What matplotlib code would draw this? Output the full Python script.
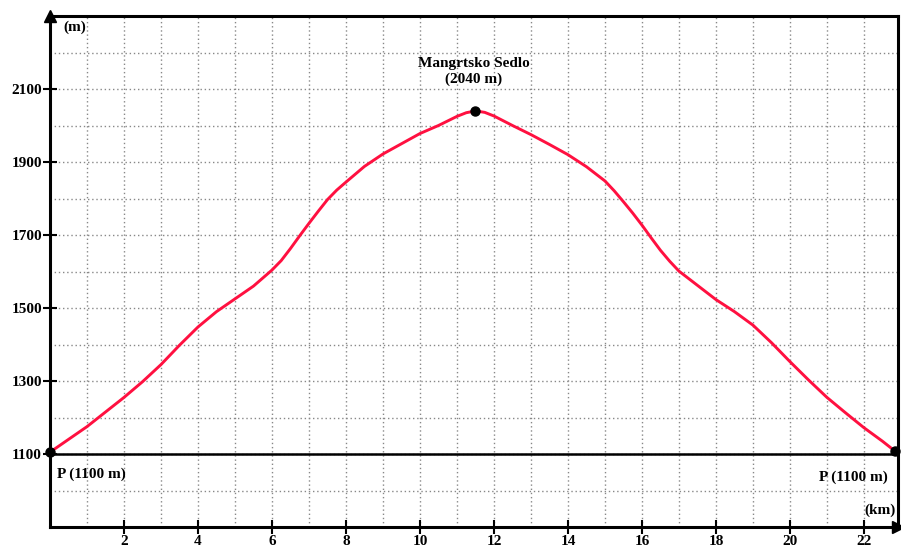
import numpy as np
import matplotlib.pyplot as plt
from matplotlib.ticker import MultipleLocator

# Elevation profile (km, m)
distance_km = [0, 0.5, 1, 1.5, 2, 2.5, 3, 3.5, 4, 4.5, 5, 5.5, 6, 6.25, 6.5, 6.75, 7, 7.25, 7.5,
               7.75, 8, 8.5, 9, 9.5, 10, 10.5, 11, 11.25, 11.5, 11.75, 12, 12.5, 13, 13.5, 14,
               14.5, 15, 15.25, 15.5, 15.75, 16, 16.25, 16.5, 16.75, 17, 17.5, 18, 18.5, 19,
               19.5, 20, 20.5, 21, 21.5, 22, 22.5, 22.85]
elevation_m = [1105, 1140, 1175, 1215, 1255, 1298, 1345, 1398, 1448, 1490, 1525, 1560, 1604,
               1630, 1663, 1698, 1732, 1765, 1797, 1823, 1845, 1888, 1922, 1950, 1978, 2000,
               2025, 2035, 2040, 2036, 2026, 2000, 1975, 1948, 1920, 1887, 1848, 1821, 1791,
               1760, 1727, 1692, 1658, 1628, 1601, 1562, 1523, 1490, 1453, 1405, 1353, 1303,
               1255, 1213, 1172, 1135, 1107]

points_km = [0, 11.5, 22.85]
points_m = [1105, 2040, 1107]
point_labels = ["P (1100 m)", "Mangrtsko Sedlo\n(2040 m)", "P (1100 m)"]

x_ticks = [2, 4, 6, 8, 10, 12, 14, 16, 18, 20, 22]
y_ticks = [1100, 1300, 1500, 1700, 1900, 2100]

plt.rcParams['font.family'] = ['Liberation Serif', 'DejaVu Serif']
plt.rcParams['font.weight'] = 'bold'

fig = plt.figure(figsize=(9.01, 5.50), dpi=100)
ax = fig.add_axes([50 / 901, 1 - 527 / 550, 848 / 901, 511 / 550])
ax.set_xlim(0, 22.92)
ax.set_ylim(900, 2300)

ax.xaxis.set_minor_locator(MultipleLocator(1))
ax.yaxis.set_minor_locator(MultipleLocator(100))
ax.set_xticks(x_ticks)
ax.set_yticks(y_ticks)
ax.grid(which='both', color='#888888', linestyle=(0, (1, 2)), linewidth=1.0)
ax.tick_params(which='minor', length=0)
ax.tick_params(which='major', direction='inout', length=9.5, width=1.5, labelsize=11, pad=1)
ax.set_axisbelow(True)

for spine in ax.spines.values():
    spine.set_linewidth(2.2)
    spine.set_color('black')

ax.axhline(1100, color='black', linewidth=1.8, zorder=3)

ax.plot(distance_km, elevation_m, color='#ff1040', linewidth=2.1, zorder=4,
        solid_joinstyle='round', solid_capstyle='round')
ax.plot(points_km, points_m, 'o', color='black', markersize=6.5, zorder=5, clip_on=False)

# arrow heads on the axes
ax.plot([0], [1], '^', color='black', markersize=9, transform=ax.transAxes, clip_on=False)
ax.plot([1], [0], '>', color='black', markersize=9, transform=ax.transAxes, clip_on=False)

ax.text(0.35, 2268, "(m)", fontsize=11, ha='left', va='center')
ax.text(22.85, 945, "(km)", fontsize=11, ha='right', va='center')
ax.text(0.2, 1045, point_labels[0], fontsize=11, ha='left', va='center')
ax.text(22.65, 1037, point_labels[2], fontsize=11, ha='right', va='center')
ax.text(11.45, 2147, point_labels[1], fontsize=11, ha='center', va='center', linespacing=1.25)

fig.savefig("out.png", dpi=100)
